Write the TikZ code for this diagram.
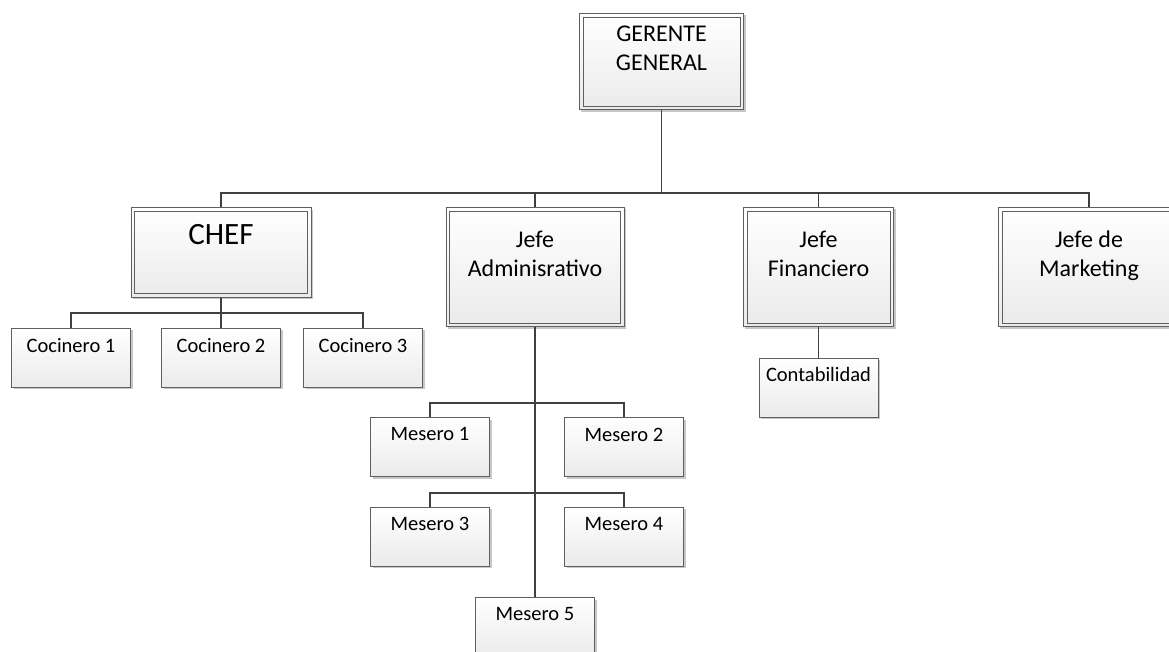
\documentclass[tikz,border=0pt]{standalone}
\usepackage{fontspec}
\setmainfont{Carlito}
\usepackage{tikz}
\usetikzlibrary{shadows}

\definecolor{borde}{HTML}{5F5F5F}
\definecolor{conector}{HTML}{404040}
\newcommand{\letragrande}{\fontsize{24}{29}\selectfont}
\newcommand{\letrachef}{\fontsize{31}{36}\selectfont}
\newcommand{\letrachica}{\fontsize{20.5}{25}\selectfont}

\tikzset{
  sombra/.style={drop shadow={shadow xshift=2pt, shadow yshift=-2pt, fill=black!22, opacity=1}},
  caja/.style={draw=borde, line width=0.8pt, top color=white, bottom color=black!8,
    inner sep=0pt, sombra},
  cajita/.style={caja, minimum width=119pt, minimum height=59pt},
  interior/.style={draw=borde, line width=0.8pt},
  rotulo/.style={anchor=north, inner sep=0pt, align=center},
  linea/.style={draw=conector, line width=1.3pt}
}

\begin{document}
\begin{tikzpicture}[x=1pt, y=-1pt]
  \useasboundingbox (0,0) rectangle (1169,652);

  \node[caja, minimum width=164.2pt, minimum height=96.2pt,
    label={[rotulo, font=\letragrande, label distance=-12.5pt]north:{GERENTE\\GENERAL}}]
    (gerente) at (661.5,61.5) {};

  \node[caja, minimum width=180.2pt, minimum height=89.2pt,
    label={[rotulo, font=\letrachef, label distance=-16.5pt]north:{CHEF}}]
    (chef) at (221,252.5) {};
  \node[caja, minimum width=178.2pt, minimum height=119.2pt,
    label={[rotulo, font=\letragrande, label distance=-23.5pt]north:{Jefe\\Adminisrativo}}]
    (admin) at (535,267) {};
  \node[caja, minimum width=150.2pt, minimum height=119.2pt,
    label={[rotulo, font=\letragrande, label distance=-23.5pt]north:{Jefe\\Financiero}}]
    (finanzas) at (818.5,267) {};
  \node[caja, minimum width=181.2pt, minimum height=119.2pt,
    label={[rotulo, font=\letragrande, label distance=-23.5pt]north:{Jefe de\\Marketing}}]
    (marketing) at (1089,267) {};

  % segundo borde de las cajas dobles
  \foreach \jefe in {gerente,chef,admin,finanzas,marketing}
    \draw[interior] ([shift={(4pt,-4pt)}]\jefe.north west) rectangle ([shift={(-4pt,4pt)}]\jefe.south east);

  \node[cajita, label={[rotulo, font=\letrachica, label distance=-10.5pt]north:{Cocinero 1}}]
    (cocinero1) at (71,357.5) {};
  \node[cajita, label={[rotulo, font=\letrachica, label distance=-10.5pt]north:{Cocinero 2}}]
    (cocinero2) at (221,357.5) {};
  \node[cajita, label={[rotulo, font=\letrachica, label distance=-10.5pt]north:{Cocinero 3}}]
    (cocinero3) at (363,357.5) {};

  \node[cajita, label={[rotulo, font=\letrachica, label distance=-9pt]north:{Contabilidad}}]
    (contab) at (818.5,387.5) {};

  \node[cajita, label={[rotulo, font=\letrachica, label distance=-10.5pt]north:{Mesero 1}}]
    (mesero1) at (430,447) {};
  \node[cajita, label={[rotulo, font=\letrachica, label distance=-10.5pt]north:{Mesero 2}}]
    (mesero2) at (624,447) {};
  \node[cajita, label={[rotulo, font=\letrachica, label distance=-10.5pt]north:{Mesero 3}}]
    (mesero3) at (430,536.5) {};
  \node[cajita, label={[rotulo, font=\letrachica, label distance=-10.5pt]north:{Mesero 4}}]
    (mesero4) at (624,536.5) {};
  \node[cajita, label={[rotulo, font=\letrachica, label distance=-10.5pt]north:{Mesero 5}}]
    (mesero5) at (535,627) {};

  % barras de union
  \coordinate (barra1) at (661.5,193);
  \coordinate (barra2) at (221,313);
  \coordinate (barra3) at (535,403);
  \coordinate (barra4) at (535,493);

  \draw[linea] (gerente.south) -- (barra1);
  \draw[linea] (chef.north) |- (barra1) -| (marketing.north);
  \draw[linea] (admin.north) |- (barra1);
  \draw[linea] (finanzas.north) |- (barra1);

  \draw[linea] (chef.south) -- (cocinero2.north);
  \draw[linea] (cocinero1.north) |- (barra2) -| (cocinero3.north);

  \draw[linea] (finanzas.south) -- (contab.north);

  \draw[linea] (admin.south) -- (mesero5.north);
  \draw[linea] (mesero1.north) |- (barra3) -| (mesero2.north);
  \draw[linea] (mesero3.north) |- (barra4) -| (mesero4.north);
\end{tikzpicture}
\end{document}
